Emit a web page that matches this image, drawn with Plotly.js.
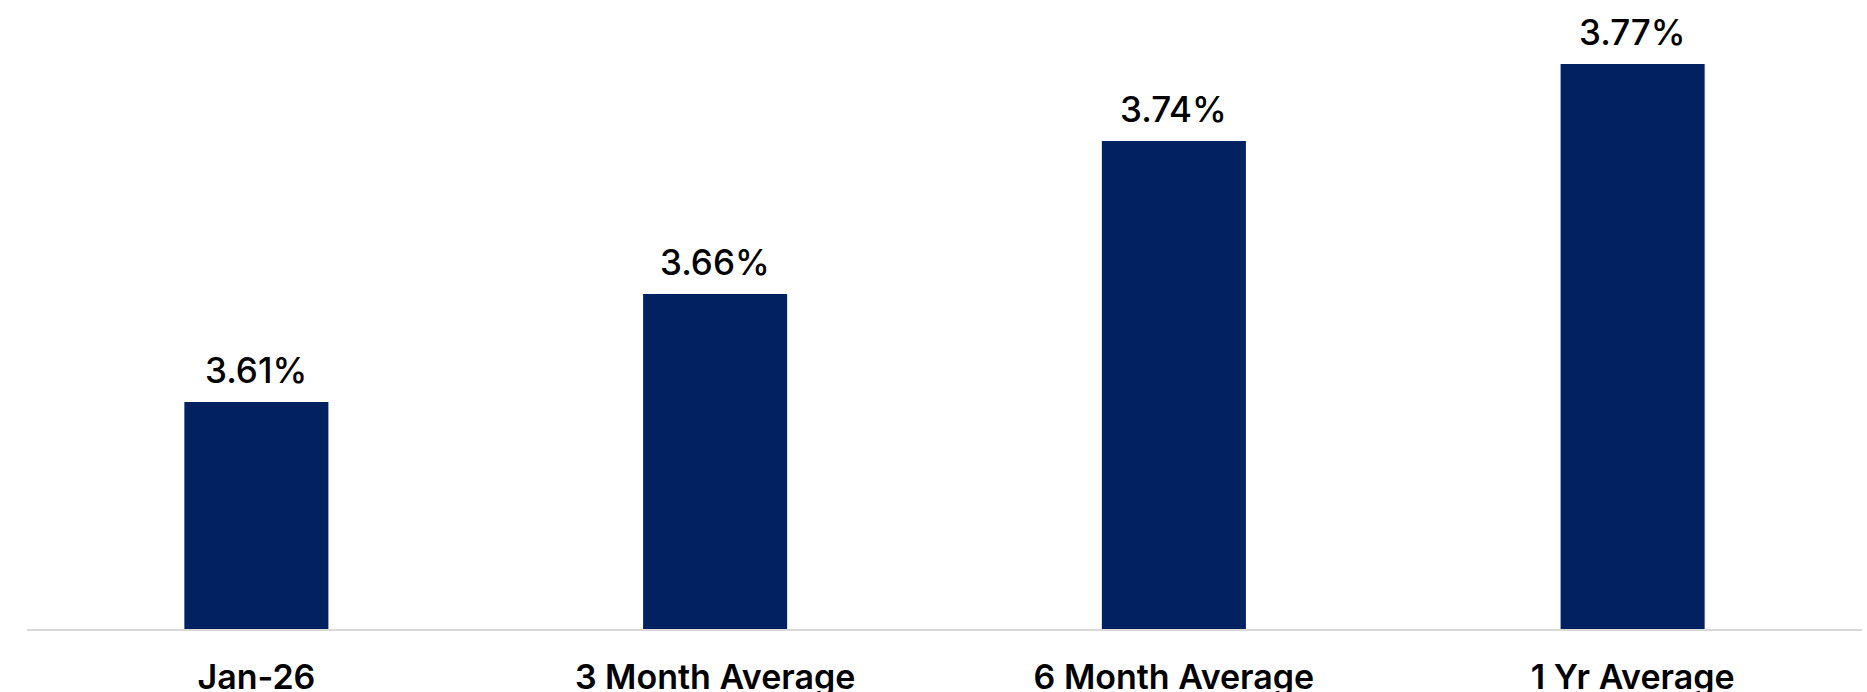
<!DOCTYPE html>
<html>
<head>
<meta charset="utf-8">
<script src="https://cdn.plot.ly/plotly-3.0.1.min.js"></script>
<style>html,body{margin:0;padding:0;background:#fff;}#chart{width:1867px;height:692px;}</style>
</head>
<body>
<div id="chart"></div>
<script>
const categories = ["Jan-26", "3 Month Average", "6 Month Average", "1 Yr Average"];
const values = [3.6097, 3.6618, 3.7357, 3.7729];
const valueLabels = ["3.61%", "3.66%", "3.74%", "3.77%"];

const barColor = "#022161";
const fontFamily = "Inter, 'Noto Sans', sans-serif";

const trace = {
  type: "bar",
  x: categories,
  y: values,
  marker: {color: barColor},
  hoverinfo: "skip"
};

const annotations = categories.map((c, i) => ({
  x: c, y: values[i], xref: "x", yref: "y",
  text: valueLabels[i], showarrow: false,
  yanchor: "bottom", yshift: 9,
  font: {family: fontFamily, size: 35, color: "#000", weight: 500}
}));

const layout = {
  width: 1867, height: 692,
  margin: {l: 27, r: 5, t: 0, b: 63},
  paper_bgcolor: "#fff", plot_bgcolor: "#fff",
  bargap: 0.686,
  showlegend: false,
  xaxis: {
    type: "category",
    range: [-0.5, 3.5],
    showline: true, linecolor: "#d9d9d9", linewidth: 2,
    ticks: "", showgrid: false, zeroline: false,
    tickfont: {family: fontFamily, size: 34, color: "#000", weight: 600},
    ticklabelstandoff: 17
  },
  yaxis: {
    range: [3.5, 3.5 + 629 / 2070],
    visible: false, showgrid: false, zeroline: false
  },
  annotations: annotations
};

Plotly.newPlot("chart", [trace], layout, {displayModeBar: false, staticPlot: true});
</script>
</body>
</html>
